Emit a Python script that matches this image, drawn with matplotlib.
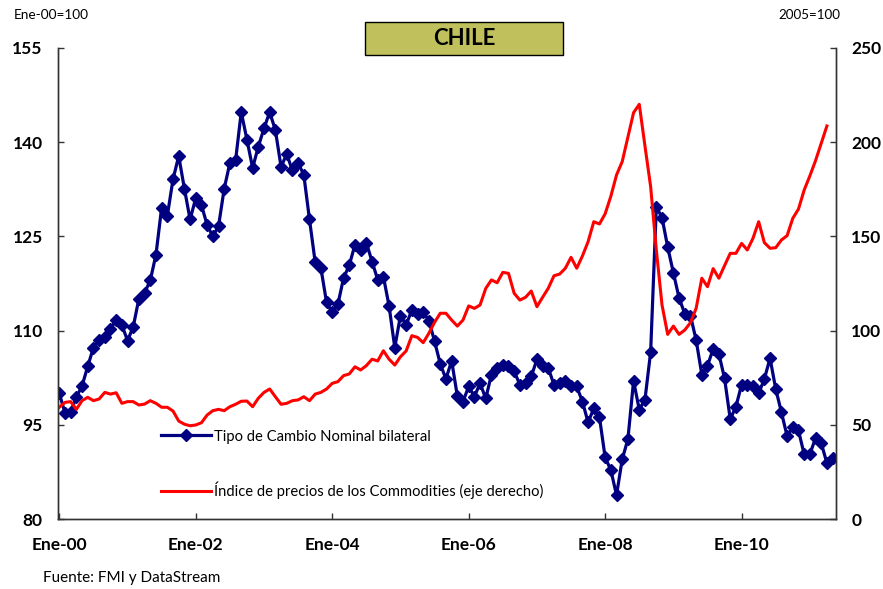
import numpy as np
import matplotlib
matplotlib.use("Agg")
import matplotlib.pyplot as plt
from matplotlib.patches import Rectangle

plt.rcParams['font.family'] = ['Lato', 'DejaVu Sans']

# Tipo de cambio nominal bilateral (Ene-00=100), monthly from Jan 2000
tipo_cambio = [
    100.0, 96.9, 97.1, 99.4, 101.2, 104.3, 107.3, 108.5, 109.0, 110.3,
    111.7, 110.9, 108.4, 110.6, 115.1, 116.0, 118.0, 122.1, 129.6, 128.3,
    134.1, 137.8, 132.6, 127.7, 131.1, 130.0, 126.8, 125.0, 126.6, 132.6,
    136.7, 137.1, 144.8, 140.4, 135.9, 139.3, 142.2, 144.8, 141.9, 136.1,
    138.1, 135.5, 136.7, 134.8, 127.7, 120.9, 120.0, 114.5, 112.9, 114.2,
    118.4, 120.4, 123.7, 122.8, 124.0, 121.0, 118.1, 118.6, 113.9, 107.3,
    112.4, 110.9, 113.3, 112.6, 112.9, 111.6, 108.3, 104.7, 102.3, 105.2,
    99.6, 98.7, 101.1, 99.5, 101.6, 99.2, 103.0, 104.0, 104.6, 104.3,
    103.5, 101.4, 101.6, 102.7, 105.4, 104.3, 104.0, 101.4, 101.6, 102.0,
    101.1, 101.1, 98.7, 95.4, 97.6, 96.2, 89.8, 87.8, 83.8, 89.5,
    92.7, 102.0, 97.4, 99.0, 106.6, 129.7, 128.0, 123.3, 119.2, 115.2,
    112.7, 112.4, 108.5, 103.0, 104.4, 107.1, 106.3, 102.4, 95.9, 97.9,
    101.4, 101.4, 101.2, 100.0, 102.3, 105.6, 100.7, 97.0, 93.2, 94.6,
    94.1, 90.3, 90.3, 92.9, 92.1, 88.9, 89.7,
]

# Indice de precios de commodities (2005=100), eje derecho
commodities = [
    59.3, 61.9, 62.3, 58.2, 62.8, 64.6, 62.8, 63.7, 67.2, 66.3,
    67.0, 61.4, 62.3, 62.3, 60.5, 61.0, 62.8, 61.4, 59.3, 59.3,
    57.3, 52.0, 50.3, 49.5, 49.9, 51.1, 55.2, 57.5, 58.2, 57.5,
    59.6, 60.9, 62.5, 62.6, 59.6, 64.1, 67.2, 69.0, 64.9, 60.9,
    61.4, 62.8, 63.2, 64.9, 62.8, 66.3, 67.2, 69.0, 72.0, 72.9,
    76.1, 77.0, 80.8, 79.1, 81.4, 84.8, 83.9, 89.3, 84.8, 81.7,
    86.1, 89.2, 97.3, 96.4, 93.6, 98.6, 104.4, 109.2, 109.2, 105.6,
    102.4, 105.6, 113.1, 111.8, 113.6, 122.4, 126.9, 125.4, 130.9, 130.4,
    119.8, 116.2, 117.7, 121.0, 112.7, 117.7, 122.5, 129.1, 130.0, 133.1,
    138.9, 133.1, 139.6, 147.2, 157.8, 156.6, 162.0, 171.3, 182.6, 189.7,
    202.6, 215.7, 220.1, 198.0, 176.4, 142.8, 113.6, 98.0, 102.4, 98.0,
    100.3, 104.2, 111.8, 127.8, 123.3, 132.9, 127.8, 134.5, 141.0, 141.0,
    146.3, 142.8, 149.0, 157.8, 146.7, 143.7, 144.0, 148.1, 150.4, 159.6,
    164.5, 174.6, 182.1, 190.2, 199.4, 208.6,
]

xtick_pos = [0, 24, 48, 72, 96, 120]
xtick_labels = ['Ene-00', 'Ene-02', 'Ene-04', 'Ene-06', 'Ene-08', 'Ene-10']
left_ticks = [80, 95, 110, 125, 140, 155]
right_ticks = [0, 50, 100, 150, 200, 250]

fig = plt.figure(figsize=(8.83, 5.89), dpi=100)
ax = fig.add_axes([58/883, 1-519/589, (836-58)/883, (519-48)/589])
ax2 = ax.twinx()

x_blue = np.arange(len(tipo_cambio))
x_red = np.arange(len(commodities))

l1, = ax.plot(x_blue, tipo_cambio, color='#000080', lw=2.3, marker='D',
              markersize=6, label='Tipo de Cambio Nominal bilateral')
l2, = ax2.plot(x_red, commodities, color='#ff0000', lw=2.2,
               label='Índice de precios de los Commodities (eje derecho)')

ax.set_xlim(-0.23, 136.6)
ax.set_ylim(80, 155)
ax2.set_ylim(0, 250)
ax.set_yticks(left_ticks)
ax2.set_yticks(right_ticks)
ax.set_xticks(xtick_pos)
ax.set_xticklabels(xtick_labels)

for a in (ax, ax2):
    a.spines['top'].set_visible(False)
    for s in ('left', 'right', 'bottom'):
        a.spines[s].set_color('#333333')
        a.spines[s].set_linewidth(1.0)
    a.tick_params(direction='in', length=4, width=1, color='#333333')

ax.tick_params(axis='y', pad=11, labelsize=12.5)
ax.tick_params(axis='x', pad=13, labelsize=12.5)
ax2.tick_params(axis='y', pad=11, labelsize=12.5)
for lab in ax.get_xticklabels() + ax.get_yticklabels() + ax2.get_yticklabels():
    lab.set_fontweight('bold')

leg = ax2.legend(handles=[l1, l2], loc='upper left',
                 bbox_to_anchor=(0.115, 0.218), frameon=False, fontsize=10.6,
                 labelspacing=2.6, handlelength=3.4, handletextpad=0.2)

fig.text(14/883, 1-15/589, 'Ene-00=100', fontsize=9.8, va='center', ha='left')
fig.text(840/883, 1-15/589, '2005=100', fontsize=9.6, va='center', ha='right')
fig.text(43/883, 1-578/589, 'Fuente: FMI y DataStream', fontsize=11,
         va='center', ha='left')

box = Rectangle((365/883, 1-55/589), (563-365)/883, (55-22)/589,
                transform=fig.transFigure, facecolor='#c0c05c',
                edgecolor='black', lw=1.0)
fig.patches.append(box)
fig.text(464/883, 1-38.5/589, 'CHILE', fontsize=16, fontweight='bold',
         ha='center', va='center')

fig.savefig('out.png', dpi=100)
